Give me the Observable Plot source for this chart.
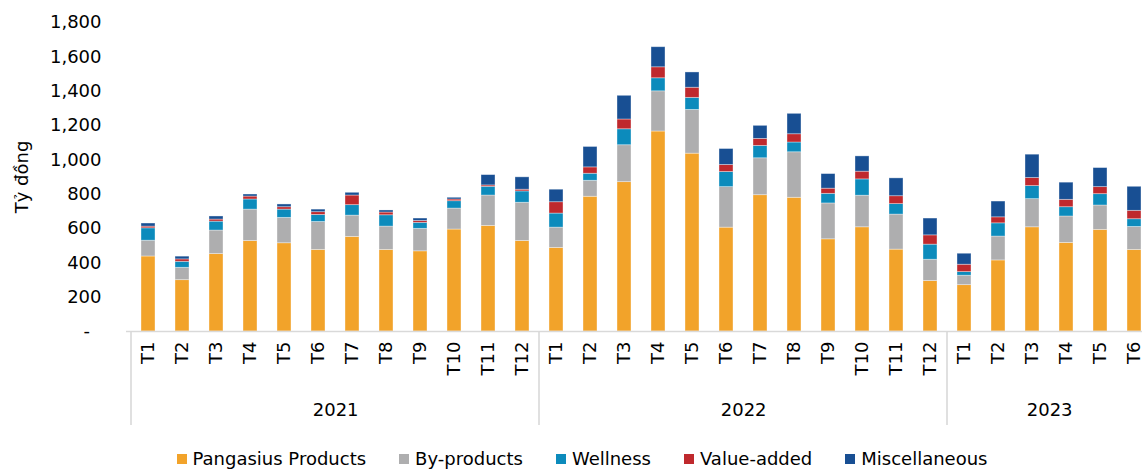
<!DOCTYPE html>
<html>
<head>
<meta charset="utf-8">
<script src="https://cdn.jsdelivr.net/npm/d3@7"></script>
<script src="https://cdn.jsdelivr.net/npm/@observablehq/plot@0.6"></script>
<style>
  html, body { margin: 0; padding: 0; background: #fff; overflow: hidden; }
  #wrap { width: 1164px; font-family: "DejaVu Sans", sans-serif; color: #000; }
  #legend { width: 1164px; display: flex; justify-content: center; padding-top: 3px; }
  #legend > div { justify-content: center; font-size: 18px; font-family: "DejaVu Sans", sans-serif; color:#000; min-height: 31px; }
  #legend span[class$="-swatch"] { margin-right: 33px !important; }
  #legend span[class$="-swatch"]:last-of-type { margin-right: 0 !important; }
  #legend span[class$="-swatch"] > svg { margin-right: 6px !important; }
</style>
</head>
<body>
<div id="wrap"><div id="chart"></div><div id="legend"></div></div>
<script>
// ---- data ----
const years = ["2021", "2022", "2023"];
const monthsPerYear = [12, 12, 6];
const seriesNames = ["Pangasius Products", "By-products", "Wellness", "Value-added", "Miscellaneous"];
const seriesColors = ["#F2A32A", "#AEAEAF", "#0C8BBC", "#BF292D", "#184F93"];
const yTicks = [0, 200, 400, 600, 800, 1000, 1200, 1400, 1600, 1800];

const pangasius = [437, 299, 451, 527, 514, 475, 551, 475, 467, 594, 615, 527,
                   487, 785, 870, 1165, 1036, 605, 794, 779, 537, 607, 477, 294,
                   270, 414, 607, 516, 592, 475];
const byProducts = [92, 72, 137, 183, 148, 163, 124, 136, 131, 122, 177, 223,
                    118, 93, 215, 234, 255, 236, 215, 265, 209, 184, 204, 124,
                    55, 139, 164, 154, 142, 134];
const wellness = [72, 35, 52, 59, 48, 41, 61, 66, 35, 43, 51, 66,
                  82, 41, 93, 76, 70, 88, 72, 57, 56, 95, 61, 88,
                  21, 77, 76, 54, 66, 45];
const valueAdded = [10, 14, 12, 17, 14, 16, 56, 16, 11, 10, 8, 10,
                    66, 37, 57, 64, 59, 41, 41, 48, 30, 45, 46, 54,
                    43, 35, 47, 43, 41, 49];
const misc = [18, 16, 18, 12, 16, 15, 16, 12, 14, 10, 60, 72,
              73, 119, 138, 117, 89, 93, 76, 119, 85, 89, 104, 98,
              64, 92, 136, 100, 111, 140];

// ---- build table ----
const keys = [];
const monthOf = {};
years.forEach((y, yi) => {
  for (let m = 1; m <= monthsPerYear[yi]; m++) {
    const k = y + "-T" + m;
    keys.push(k);
    monthOf[k] = "T" + m;
  }
});
const seriesValues = [pangasius, byProducts, wellness, valueAdded, misc];
const data = [];
seriesNames.forEach((s, si) => {
  keys.forEach((k, i) => data.push({key: k, series: s, value: seriesValues[si][i]}));
});
const yearInfo = years.map((y, yi) => {
  const ks = keys.filter(k => k.startsWith(y + "-"));
  return {year: y, first: ks[0], mid: ks[Math.floor(ks.length / 2) - 1], n: ks.length};
});

const W = 1164, H = 440, ML = 126, MR = 9, MT = 22, MB = 109;
const step = (W - ML - MR) / keys.length;
const fmt = d3.format(",");

const plot = Plot.plot({
  width: W, height: H,
  marginLeft: ML, marginRight: MR, marginTop: MT, marginBottom: MB,
  style: {fontFamily: "DejaVu Sans, sans-serif", fontSize: "18px", color: "#000", background: "#fff"},
  x: {domain: keys, paddingInner: 0.6, paddingOuter: 0.3, axis: null},
  y: {domain: [0, 1800], axis: null},
  color: {domain: seriesNames, range: seriesColors},
  marks: [
    Plot.barY(data, {x: "key", y: "value", fill: "series", stroke: "#fff", strokeOpacity: 0.45, strokeWidth: 0.8}),
    Plot.ruleY([0], {stroke: "#d9d9d9", strokeWidth: 1.6}),
    Plot.axisX({tickFormat: k => monthOf[k], tickRotate: -90, tickSize: 0, tickPadding: 10, fontSize: 18, label: null}),
    Plot.axisY({ticks: yTicks, tickFormat: d => d === 0 ? "-\u00a0\u00a0" : fmt(d), tickSize: 0, tickPadding: 25, fontSize: 18,
                label: "Tỷ đồng", labelAnchor: "center", labelArrow: false, labelOffset: 111}),
    Plot.text(yearInfo, {x: "mid", text: "year", frameAnchor: "bottom", dy: 84, dx: step / 2, fontSize: 18, fill: "#000"})
  ]
});
document.getElementById("chart").appendChild(plot);

// group separators on the category axis, positioned via the plot's x scale
const xs = plot.scale("x");
const svg = d3.select(plot);
const boundaries = yearInfo.map(d => xs.apply(d.first) - (xs.step - xs.bandwidth) / 2);
const lastKey = keys[keys.length - 1];
boundaries.push(xs.apply(lastKey) + xs.bandwidth + (xs.step - xs.bandwidth) / 2);
svg.append("g").selectAll("line").data(boundaries).join("line")
  .attr("x1", d => d).attr("x2", d => d)
  .attr("y1", H - MB).attr("y2", H - MB + 94)
  .attr("stroke", "#d9d9d9").attr("stroke-width", 1.6);

// legend
const leg = plot.legend("color", {swatchSize: 10});
document.getElementById("legend").appendChild(leg);
</script>
</body>
</html>
